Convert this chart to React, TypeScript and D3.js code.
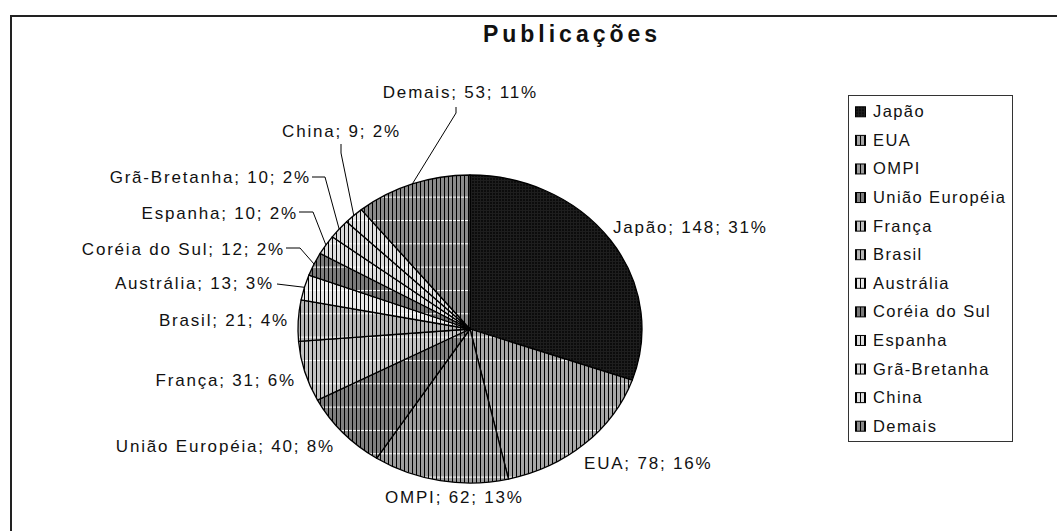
import React, { useEffect, useRef } from "react";
import * as d3 from "d3";

const categories = [
  "Japão",
  "EUA",
  "OMPI",
  "União Européia",
  "França",
  "Brasil",
  "Austrália",
  "Coréia do Sul",
  "Espanha",
  "Grã-Bretanha",
  "China",
  "Demais",
];
const values = [148, 78, 62, 40, 31, 21, 13, 12, 10, 10, 9, 53];
const percents = [31, 16, 13, 8, 6, 4, 3, 2, 2, 2, 2, 11];

// grey tone behind the hatching of each slice
const shades = [
  "#0c0c0c",
  "#a6a6a6",
  "#9c9c9c",
  "#7e7e7e",
  "#c2c2c2",
  "#b6b6b6",
  "#e8e8e8",
  "#7a7a7a",
  "#dedede",
  "#dadada",
  "#e0e0e0",
  "#8a8a8a",
];

// where Excel put each label: [x, baseline, anchor] and leader elbows
const labelAt: [number, number, string][] = [
  [613, 233, "start"],
  [584, 469, "start"],
  [385, 503, "start"],
  [335, 452, "end"],
  [296, 386, "end"],
  [289, 326, "end"],
  [274, 289, "end"],
  [285, 255, "end"],
  [298, 219, "end"],
  [311, 183, "end"],
  [401, 137, "end"],
  [538, 98, "end"],
];
const leaders: [number, number][][] = [
  [], [], [], [], [], [],
  [[277, 284]],
  [[286, 248], [300, 248]],
  [[299, 212], [313, 212]],
  [[312, 177], [325, 177]],
  [[341, 144], [341, 153]],
  [[456, 107], [456, 113]],
];

const W = 1057;
const H = 531;
const cx = 470;
const cy = 329;
const rx = 172;
const ry = 154;
const font = "'Liberation Sans', Arial, sans-serif";

export default function App() {
  const ref = useRef<SVGSVGElement>(null);

  useEffect(() => {
    const svg = d3.select(ref.current);
    svg.selectAll("*").remove();
    const defs = svg.append("defs");

    shades.forEach((c, i) => {
      if (i === 0) {
        const p = defs
          .append("pattern")
          .attr("id", "pat0")
          .attr("patternUnits", "userSpaceOnUse")
          .attr("width", 3)
          .attr("height", 3);
        p.append("rect").attr("width", 3).attr("height", 3).attr("fill", c);
        p.append("rect").attr("width", 1).attr("height", 3).attr("fill", "#1e1e1e");
        p.append("rect").attr("width", 3).attr("height", 1).attr("fill", "#1e1e1e");
        return;
      }
      const p = defs
        .append("pattern")
        .attr("id", `pat${i}`)
        .attr("patternUnits", "userSpaceOnUse")
        .attr("y", 10)
        .attr("width", 4)
        .attr("height", 23.33);
      p.append("rect").attr("width", 4).attr("height", 23.33).attr("fill", c);
      p.append("rect").attr("width", 4).attr("height", 1).attr("fill", "#fff");
      p.append("rect").attr("width", 1).attr("height", 23.33).attr("fill", "#000");
    });

    // chart frame (cut off by the picture on the right and bottom)
    svg
      .append("rect")
      .attr("x", 11)
      .attr("y", 16)
      .attr("width", W + 20)
      .attr("height", H + 20)
      .attr("fill", "#fff")
      .attr("stroke", "#222")
      .attr("stroke-width", 2);

    svg
      .append("text")
      .attr("x", 572)
      .attr("y", 42)
      .attr("text-anchor", "middle")
      .attr("font-family", font)
      .attr("font-weight", "bold")
      .attr("font-size", 23)
      .attr("letter-spacing", 4)
      .attr("fill", "#111")
      .text("Publicações");

    const pie = d3
      .pie<number>()
      .sort(null)
      .value((d) => d);
    const arcs = pie(values);
    const pt = (a: number): [number, number] => [
      cx + rx * Math.sin(a),
      cy - ry * Math.cos(a),
    ];

    svg
      .append("g")
      .selectAll("path")
      .data(arcs)
      .enter()
      .append("path")
      .attr("d", (d) => {
        const [x0, y0] = pt(d.startAngle);
        const [x1, y1] = pt(d.endAngle);
        const large = d.endAngle - d.startAngle > Math.PI ? 1 : 0;
        return `M${cx},${cy}L${x0},${y0}A${rx},${ry} 0 ${large} 1 ${x1},${y1}Z`;
      })
      .attr("fill", (d, i) => `url(#pat${i})`)
      .attr("stroke", "#000")
      .attr("stroke-width", 1.3)
      .attr("stroke-linejoin", "round");

    // leader lines
    svg
      .append("g")
      .selectAll("path")
      .data(arcs)
      .enter()
      .filter((d, i) => leaders[i].length > 0)
      .append("path")
      .attr("d", (d) => {
        const pts = [...leaders[d.index], pt((d.startAngle + d.endAngle) / 2)];
        return d3.line()(pts);
      })
      .attr("fill", "none")
      .attr("stroke", "#000")
      .attr("stroke-width", 1);

    svg
      .append("g")
      .attr("font-family", font)
      .attr("font-size", 17)
      .attr("letter-spacing", 1.8)
      .attr("fill", "#111")
      .selectAll("text")
      .data(arcs)
      .enter()
      .append("text")
      .attr("x", (d) => labelAt[d.index][0])
      .attr("y", (d) => labelAt[d.index][1])
      .attr("text-anchor", (d) => labelAt[d.index][2])
      .text((d) => `${categories[d.index]}; ${values[d.index]}; ${percents[d.index]}%`);

    // legend
    const ly = d3
      .scaleBand()
      .domain(categories)
      .range([97, 440])
      .paddingInner(0);
    const legend = svg.append("g");
    legend
      .append("rect")
      .attr("x", 848.5)
      .attr("y", 95.5)
      .attr("width", 164)
      .attr("height", 346)
      .attr("fill", "#fff")
      .attr("stroke", "#333")
      .attr("stroke-width", 1);
    const item = legend
      .selectAll("g.item")
      .data(categories)
      .enter()
      .append("g")
      .attr("class", "item")
      .attr("transform", (d) => `translate(0,${ly(d)! + ly.bandwidth() / 2})`);
    item
      .append("rect")
      .attr("x", 855.5)
      .attr("y", -4.5)
      .attr("width", 10)
      .attr("height", 10)
      .attr("fill", (d, i) => `url(#pat${i})`)
      .attr("stroke", "#000")
      .attr("stroke-width", 1);
    item
      .append("text")
      .attr("x", 873)
      .attr("y", 6)
      .attr("font-family", font)
      .attr("font-size", 16.5)
      .attr("letter-spacing", 1.4)
      .attr("fill", "#111")
      .text((d) => d);
  }, []);

  return (
    <svg
      ref={ref}
      width={W}
      height={H}
      style={{ position: "absolute", left: 0, top: 0, background: "#fff" }}
    />
  );
}
